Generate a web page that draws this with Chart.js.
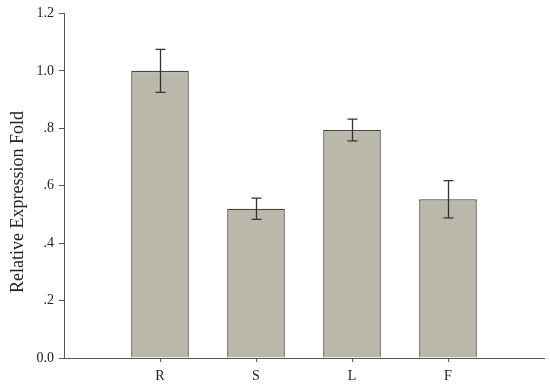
<!DOCTYPE html>
<html>
<head>
<meta charset="utf-8">
<script src="https://cdn.jsdelivr.net/npm/chart.js@4/dist/chart.umd.min.js"></script>
<style>
html,body{margin:0;padding:0;background:#fff;}
#wrap{width:550px;height:389px;position:relative;}
</style>
</head>
<body>
<div id="wrap"><canvas id="c" width="550" height="389"></canvas></div>
<script>
const categories = ['R', 'S', 'L', 'F'];
const values = [1.0, 0.52, 0.794, 0.553];
const errors = [0.075, 0.037, 0.038, 0.065];
const yTickLabels = {0: '0.0', 0.2: '.2', 0.4: '.4', 0.6: '.6', 0.8: '.8', 1: '1.0', 1.2: '1.2'};
const yTitle = 'Relative Expression Fold';

const serif = '"Liberation Serif", "Times New Roman", serif';
const axisColor = '#555555';

const errorBars = {
  id: 'errorBars',
  afterDatasetsDraw(chart) {
    const ctx = chart.ctx;
    const meta = chart.getDatasetMeta(0);
    const ys = chart.scales.y;
    ctx.save();
    ctx.strokeStyle = '#333333';
    ctx.lineWidth = 1.3;
    meta.data.forEach((bar, i) => {
      const x = Math.round(bar.x) + 0.5;
      const top = ys.getPixelForValue(values[i] + errors[i]);
      const bot = ys.getPixelForValue(values[i] - errors[i]);
      ctx.beginPath();
      ctx.moveTo(x, top); ctx.lineTo(x, bot);
      ctx.moveTo(x - 5, top); ctx.lineTo(x + 5, top);
      ctx.moveTo(x - 5, bot); ctx.lineTo(x + 5, bot);
      ctx.stroke();
    });
    ctx.restore();
  }
};

const yTitlePlugin = {
  id: 'yTitlePlugin',
  afterDraw(chart) {
    const ctx = chart.ctx;
    ctx.save();
    ctx.translate(18, 202);
    ctx.rotate(-Math.PI / 2);
    ctx.font = '18px ' + serif;
    ctx.fillStyle = '#222222';
    ctx.textAlign = 'center';
    ctx.textBaseline = 'middle';
    ctx.fillText(yTitle, 0, 0);
    ctx.restore();
  }
};

new Chart(document.getElementById('c'), {
  type: 'bar',
  data: {
    datasets: [{
      data: categories.map((c, i) => ({x: i + 1, y: values[i]})),
      backgroundColor: '#b9b8ab',
      borderColor: '#444444',
      borderWidth: 1.3,
      borderSkipped: 'start',
      barPercentage: 0.6,
      categoryPercentage: 1.0
    }]
  },
  options: {
    responsive: false,
    animation: false,
    layout: {padding: {top: 13, right: 6, left: 0, bottom: 0}},
    plugins: {legend: {display: false}, tooltip: {enabled: false}},
    scales: {
      x: {
        type: 'linear',
        offset: false,
        min: 0, max: 5,
        afterBuildTicks(scale) { scale.ticks = categories.map((c, i) => ({value: i + 1})); },
        afterFit(scale) { scale.height = 31; },
        grid: {display: true, offset: false, drawOnChartArea: false, drawTicks: true, tickLength: 4, tickColor: axisColor},
        border: {display: true, color: axisColor, width: 1},
        ticks: {
          callback: (v) => categories[v - 1] || '',
          font: {family: serif, size: 14},
          color: '#222222',
          padding: 6,
          maxRotation: 0,
          autoSkip: false
        }
      },
      y: {
        min: 0, max: 1.2,
        afterBuildTicks(scale) { scale.ticks = Object.keys(yTickLabels).map(Number).sort((a,b)=>a-b).map(v => ({value: v})); },
        afterFit(scale) { scale.width = 64; },
        grid: {display: true, offset: false, drawOnChartArea: false, drawTicks: true, tickLength: 5, tickColor: axisColor},
        border: {display: true, color: axisColor, width: 1},
        ticks: {
          callback: (v) => yTickLabels[Math.round(v * 10) / 10] || '',
          font: {family: serif, size: 14},
          color: '#222222',
          padding: 5,
          autoSkip: false
        }
      }
    }
  },
  plugins: [errorBars, yTitlePlugin]
});
</script>
</body>
</html>
